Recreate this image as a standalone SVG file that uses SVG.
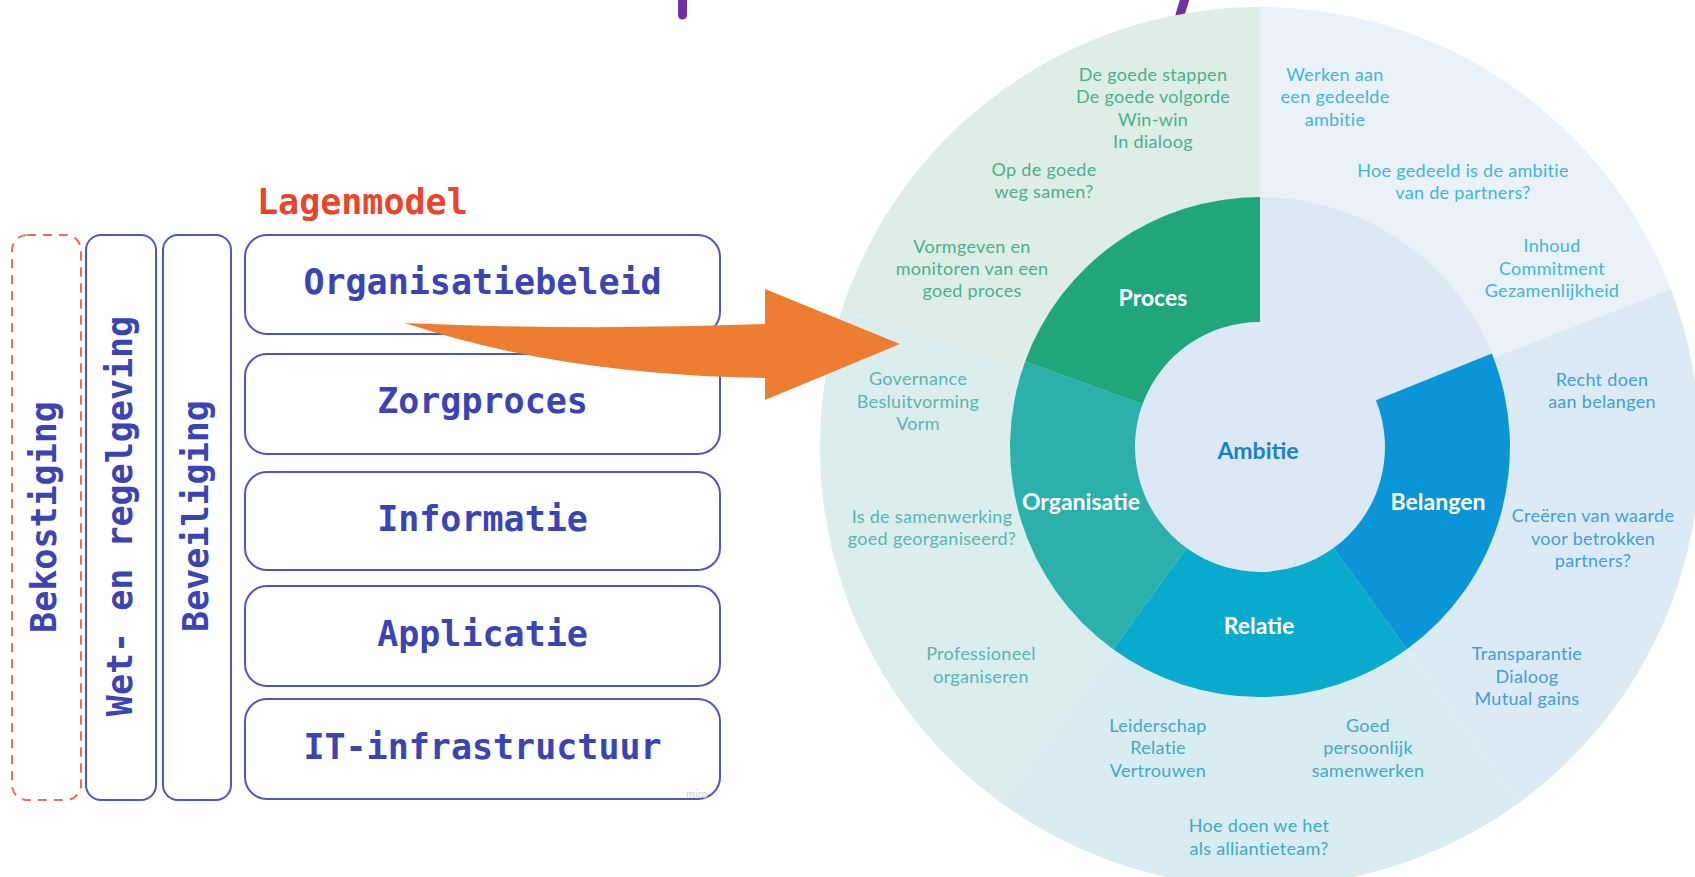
<svg xmlns="http://www.w3.org/2000/svg" width="1695" height="877" viewBox="0 0 1695 877">
<style>
.mono{font-family:"DejaVu Sans Mono","Liberation Mono",monospace;font-weight:bold;font-size:35px;fill:#3B44B3}
.box{fill:#fff;stroke:#5158B8;stroke-width:2}
.lbl{font-family:Lato,"Open Sans",sans-serif;font-weight:400;font-size:18px;letter-spacing:0.3px;text-anchor:middle}
.seg{font-family:Lato,"Open Sans",sans-serif;font-weight:bold;font-size:23px;text-anchor:middle;fill:#fff}
.cp{fill:#4BAE8C}.ca{fill:#3FB6DA}.co{fill:#55B7B0}.cr{fill:#41A9C6}.cb{fill:#429FD3}
</style>
<rect width="1695" height="877" fill="#fff"/>

<!-- cut-off title fragments -->
<g id="title-fragments" stroke="#7030A0" stroke-width="9" stroke-linecap="round">
<line x1="682.5" y1="-5" x2="682.5" y2="15"/>
<line x1="1186" y1="-5" x2="1180" y2="15"/>
</g>

<g id="lagenmodel-title">
<text x="257" y="214" font-family="DejaVu Sans Mono,Liberation Mono,monospace" font-weight="bold" font-size="35" fill="#E8452C">Lagenmodel</text>
</g>

<g id="bekostiging">
<rect x="12" y="235" width="69" height="565" rx="15" fill="none" stroke="#E0735A" stroke-width="2" stroke-dasharray="9 7"/>
<text class="mono" text-anchor="middle" transform="translate(56 517) rotate(-90)">Bekostiging</text>
</g>
<g id="wet-regelgeving">
<rect class="box" x="86" y="235" width="70" height="565" rx="15"/>
<text class="mono" text-anchor="middle" transform="translate(132 516) rotate(-90)">Wet- en regelgeving</text>
</g>
<g id="beveiliging">
<rect class="box" x="163" y="235" width="68" height="565" rx="15"/>
<text class="mono" text-anchor="middle" transform="translate(208 516) rotate(-90)">Beveiliging</text>
</g>

<g id="organisatiebeleid">
<rect class="box" x="245" y="235" width="475" height="99" rx="22"/>
<text class="mono" x="482.5" y="294" text-anchor="middle">Organisatiebeleid</text>
</g>
<g id="zorgproces">
<rect class="box" x="245" y="354" width="475" height="100" rx="22"/>
<text class="mono" x="482.5" y="413" text-anchor="middle">Zorgproces</text>
</g>
<g id="informatie">
<rect class="box" x="245" y="472" width="475" height="98" rx="22"/>
<text class="mono" x="482.5" y="530.5" text-anchor="middle">Informatie</text>
</g>
<g id="applicatie">
<rect class="box" x="245" y="586" width="475" height="100" rx="22"/>
<text class="mono" x="482.5" y="645.5" text-anchor="middle">Applicatie</text>
</g>
<g id="it-infrastructuur">
<rect class="box" x="245" y="699" width="475" height="100" rx="22"/>
<text class="mono" x="482.5" y="758.5" text-anchor="middle">IT-infrastructuur</text>
<text x="686" y="798" font-family="Lato,sans-serif" font-size="11" fill="#D4D4D8">miro</text>
</g>

<!-- Wheel -->
<g id="wheel-outer">
<path d="M1260 447 L1670.8 289.3 A440 440 0 0 0 1260 7 Z" fill="#EAF2F8"/>
<path d="M1260 447 L1260 7 A440 440 0 0 0 841.5 311 Z" fill="#DEEEE7"/>
<path d="M1260 447 L841.5 311 A440 440 0 0 0 1001.4 803 Z" fill="#DCEDEE"/>
<path d="M1260 447 L1001.4 803 A440 440 0 0 0 1518.6 803 Z" fill="#D9ECF2"/>
<path d="M1260 447 L1518.6 803 A440 440 0 0 0 1670.8 289.3 Z" fill="#DBEAF4"/>
</g>

<g id="ambitie">
<circle cx="1260" cy="447" r="250" fill="#DCE9F4"/>
<text class="seg" x="1258" y="459" style="fill:#1B80CC">Ambitie</text>
<text class="lbl ca" x="1335" y="81">Werken aan</text>
<text class="lbl ca" x="1335" y="103">een gedeelde</text>
<text class="lbl ca" x="1335" y="126">ambitie</text>
<text class="lbl ca" x="1463" y="177">Hoe gedeeld is de ambitie</text>
<text class="lbl ca" x="1463" y="199">van de partners?</text>
<text class="lbl ca" x="1552" y="252">Inhoud</text>
<text class="lbl ca" x="1552" y="275">Commitment</text>
<text class="lbl ca" x="1552" y="297">Gezamenlijkheid</text>
</g>

<g id="proces">
<path d="M1260 197 A250 250 0 0 0 1025.1 361.5 L1142.5 404.3 A125 125 0 0 1 1260 322 Z" fill="#21A67B"/>
<text class="seg" x="1153" y="306">Proces</text>
<text class="lbl cp" x="1153" y="81">De goede stappen</text>
<text class="lbl cp" x="1153" y="103">De goede volgorde</text>
<text class="lbl cp" x="1153" y="126">Win-win</text>
<text class="lbl cp" x="1153" y="148">In dialoog</text>
<text class="lbl cp" x="1044" y="176">Op de goede</text>
<text class="lbl cp" x="1044" y="198">weg samen?</text>
<text class="lbl cp" x="972" y="253">Vormgeven en</text>
<text class="lbl cp" x="972" y="275">monitoren van een</text>
<text class="lbl cp" x="972" y="297">goed proces</text>
</g>

<g id="organisatie">
<path d="M1025.1 361.5 A250 250 0 0 0 1113.1 649.3 L1186.5 548.1 A125 125 0 0 1 1142.5 404.3 Z" fill="#2BB0AC"/>
<text class="seg" x="1081" y="510">Organisatie</text>
<text class="lbl co" x="918" y="385">Governance</text>
<text class="lbl co" x="918" y="408">Besluitvorming</text>
<text class="lbl co" x="918" y="430">Vorm</text>
<text class="lbl co" x="932" y="523">Is de samenwerking</text>
<text class="lbl co" x="932" y="545">goed georganiseerd?</text>
<text class="lbl co" x="981" y="660">Professioneel</text>
<text class="lbl co" x="981" y="683">organiseren</text>
</g>

<g id="relatie">
<path d="M1113.1 649.3 A250 250 0 0 0 1406.9 649.3 L1333.5 548.1 A125 125 0 0 1 1186.5 548.1 Z" fill="#08ABCC"/>
<text class="seg" x="1259" y="634">Relatie</text>
<text class="lbl cr" x="1158" y="732">Leiderschap</text>
<text class="lbl cr" x="1158" y="754">Relatie</text>
<text class="lbl cr" x="1158" y="777">Vertrouwen</text>
<text class="lbl cr" x="1368" y="732">Goed</text>
<text class="lbl cr" x="1368" y="754">persoonlijk</text>
<text class="lbl cr" x="1368" y="777">samenwerken</text>
<text class="lbl cr" x="1259" y="832">Hoe doen we het</text>
<text class="lbl cr" x="1259" y="855">als alliantieteam?</text>
</g>

<g id="belangen">
<path d="M1406.9 649.3 A250 250 0 0 0 1491.8 353.4 L1375.9 400.2 A125 125 0 0 1 1333.5 548.1 Z" fill="#0A95D7"/>
<text class="seg" x="1438" y="510">Belangen</text>
<text class="lbl cb" x="1602" y="386">Recht doen</text>
<text class="lbl cb" x="1602" y="408">aan belangen</text>
<text class="lbl cb" x="1593" y="522">Creëren van waarde</text>
<text class="lbl cb" x="1593" y="545">voor betrokken</text>
<text class="lbl cb" x="1593" y="567">partners?</text>
<text class="lbl cb" x="1527" y="660">Transparantie</text>
<text class="lbl cb" x="1527" y="683">Dialoog</text>
<text class="lbl cb" x="1527" y="705">Mutual gains</text>
</g>

<g id="connectors">
<path d="M405 323 Q585 331 765 324 L765 289 L900 344 L765 400 L765 378 Q560 375 405 323 Z" fill="#ED7D31"/>
</g>
</svg>
